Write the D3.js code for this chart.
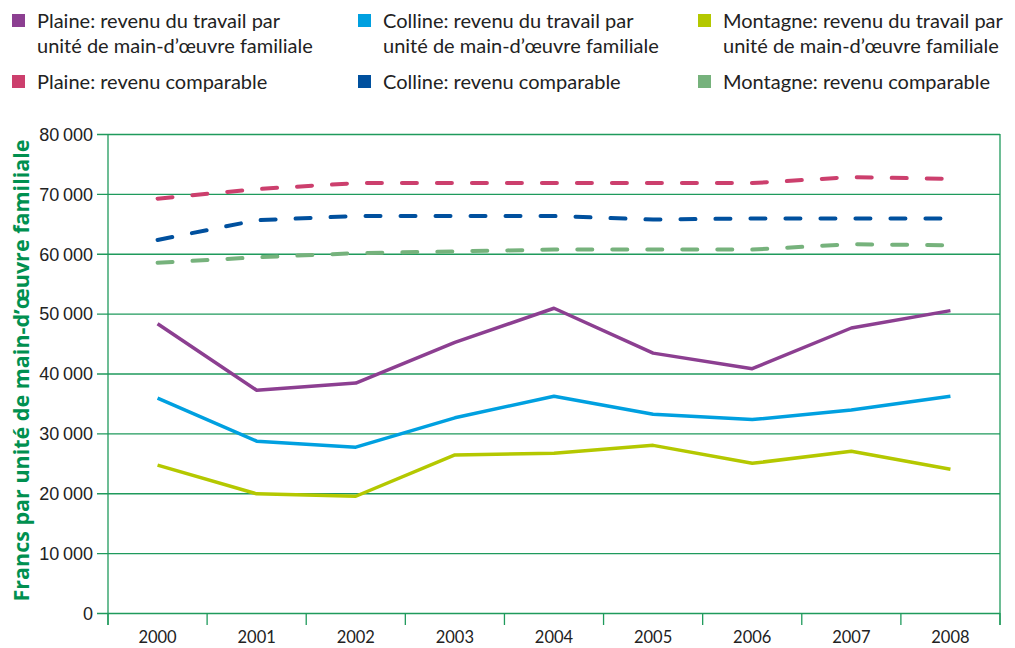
<!DOCTYPE html>
<html>
<head>
<meta charset="utf-8">
<script src="https://cdn.jsdelivr.net/npm/d3@7"></script>
<style>
  body { margin: 0; background: #fff; }
  svg { font-family: "Lato", "Open Sans", sans-serif; }
</style>
</head>
<body>
<div id="chart"></div>
<script>
const w = 1015;
const h = 648;

// Données
const years = ["2000", "2001", "2002", "2003", "2004", "2005", "2006", "2007", "2008"];
const yTicks = [0, 10000, 20000, 30000, 40000, 50000, 60000, 70000, 80000];

const plaineTravail = [48300, 37200, 38400, 45200, 50900, 43400, 40800, 47600, 50500];
const collineTravail = [35900, 28700, 27700, 32600, 36200, 33200, 32300, 33900, 36200];
const montagneTravail = [24700, 19900, 19500, 26400, 26700, 28000, 25000, 27000, 24000];
const plaineComparable = [69200, 70800, 71800, 71800, 71800, 71800, 71800, 72800, 72500];
const collineComparable = [62300, 65600, 66300, 66300, 66300, 65700, 65900, 65900, 65900];
const montagneComparable = [58500, 59400, 60100, 60400, 60700, 60700, 60700, 61600, 61400];

const seriesNames = [
  ["Plaine: revenu du travail par", "unité de main-d’œuvre familiale"],
  ["Colline: revenu du travail par", "unité de main-d’œuvre familiale"],
  ["Montagne: revenu du travail par", "unité de main-d’œuvre familiale"],
  ["Plaine: revenu comparable"],
  ["Colline: revenu comparable"],
  ["Montagne: revenu comparable"]
];
const seriesValues = [plaineTravail, collineTravail, montagneTravail,
  plaineComparable, collineComparable, montagneComparable];
const seriesColors = ["#8c3f91", "#00a0e0", "#b4c800", "#cc3f6d", "#00509e", "#76b27c"];
const seriesDashed = [false, false, false, true, true, true];

const margin = { top: 134, right: 15, bottom: 35, left: 108 };
const plotW = w - margin.left - margin.right;
const plotH = h - margin.top - margin.bottom;

const svg = d3.select("#chart").append("svg")
  .attr("width", w)
  .attr("height", h);

const x = d3.scaleBand().domain(years).range([margin.left, margin.left + plotW]);
const y = d3.scaleLinear().domain([0, 80000]).range([margin.top + plotH, margin.top]);

const gridColor = "#1f9a5c";
const fmt = d => d3.format(",")(d).replace(/,/g, "\u2009");

// Lignes de grille et étiquettes de l'axe Y
const yAxis = svg.append("g")
  .attr("transform", `translate(${margin.left},0)`)
  .call(d3.axisLeft(y).tickValues(yTicks).tickSize(-plotW).tickPadding(16).tickFormat(fmt));
yAxis.select(".domain").remove();
yAxis.selectAll(".tick line").attr("stroke", gridColor).attr("stroke-width", 1.3).attr("x1", -11);
yAxis.selectAll(".tick text")
  .attr("fill", "#222")
  .attr("font-size", 18)
  .attr("x", -15)
  .attr("dy", "0.35em");

// Axe X (graduations entre les catégories)
const bottom = margin.top + plotH;
const xg = svg.append("g");
const bounds = years.map(d => x(d)).concat([margin.left + plotW]);
xg.selectAll("line.xt")
  .data(bounds)
  .join("line")
  .attr("x1", d => d).attr("x2", d => d)
  .attr("y1", bottom).attr("y2", bottom + 12)
  .attr("stroke", gridColor).attr("stroke-width", 1.3);
xg.selectAll("text")
  .data(years)
  .join("text")
  .attr("x", d => x(d) + x.bandwidth() / 2)
  .attr("y", bottom + 30)
  .attr("text-anchor", "middle")
  .attr("font-size", 16.5)
  .attr("fill", "#222")
  .text(d => d);

// Bordures gauche et droite
svg.append("line")
  .attr("x1", margin.left).attr("x2", margin.left)
  .attr("y1", margin.top).attr("y2", bottom + 12)
  .attr("stroke", gridColor).attr("stroke-width", 1.3);
svg.append("line")
  .attr("x1", margin.left + plotW).attr("x2", margin.left + plotW)
  .attr("y1", margin.top).attr("y2", bottom + 12)
  .attr("stroke", gridColor).attr("stroke-width", 1.3);

// Courbes
const line = d3.line()
  .x((d, i) => x(years[i]) + x.bandwidth() / 2)
  .y(d => y(d));

seriesValues.forEach((vals, i) => {
  svg.append("path")
    .datum(vals)
    .attr("d", line)
    .attr("fill", "none")
    .attr("stroke", seriesColors[i])
    .attr("stroke-width", seriesDashed[i] ? 4 : 3.5)
    .attr("stroke-linecap", seriesDashed[i] ? "round" : "butt")
    .attr("stroke-linejoin", "round")
    .attr("stroke-dasharray", seriesDashed[i] ? "15,20" : null);
});

// Titre de l'axe Y
svg.append("text")
  .attr("transform", `translate(29,${margin.top + plotH / 2 - 3}) rotate(-90)`)
  .attr("text-anchor", "middle")
  .attr("font-family", "'Open Sans', sans-serif")
  .attr("font-size", 21.5)
  .attr("font-weight", "bold")
  .attr("fill", "#009050")
  .text("Francs par unité de main-d’œuvre familiale");

// Légende
const legendCols = [12, 358, 698];
const legendRows = [28, 89];
seriesNames.forEach((lines, i) => {
  const lx = legendCols[i % 3];
  const ly = legendRows[Math.floor(i / 3)];
  const g = svg.append("g");
  g.append("rect")
    .attr("x", lx).attr("y", ly - 14)
    .attr("width", 13).attr("height", 13)
    .attr("fill", seriesColors[i]);
  const t = g.append("text")
    .attr("x", lx + 25).attr("y", ly)
    .attr("font-size", 20)
    .attr("fill", "#222");
  lines.forEach((s, k) => {
    t.append("tspan")
      .attr("x", lx + 25)
      .attr("dy", k === 0 ? 0 : 25)
      .text(s);
  });
});
</script>
</body>
</html>
